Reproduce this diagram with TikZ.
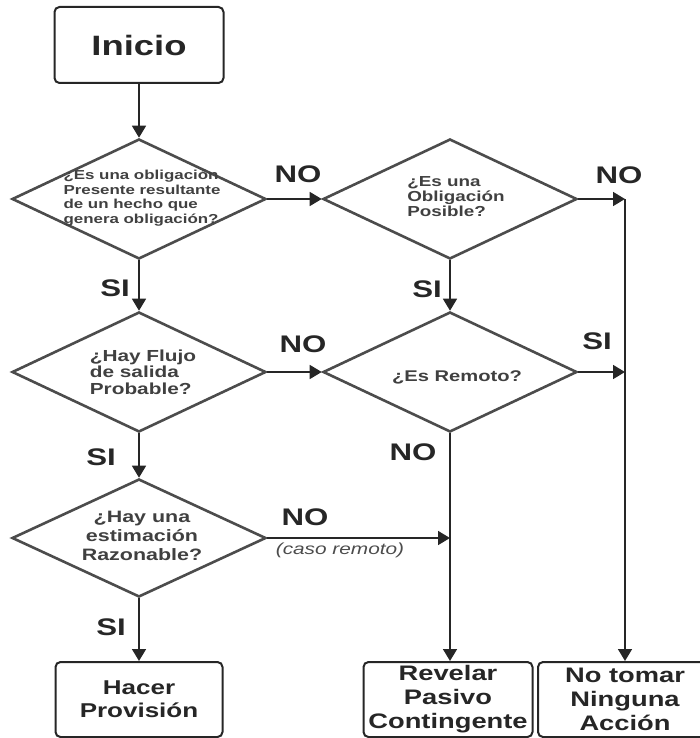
\documentclass[tikz,border=0pt]{standalone}
\usepackage{fontspec}
\setmainfont{Liberation Sans}[FakeStretch=1.3]
\usetikzlibrary{shapes.geometric,arrows.meta}

\begin{document}
\begin{tikzpicture}[x=1pt,y=-1pt,
    caja/.style={draw=black!85,line width=2pt,rounded corners=5pt,fill=white,
      inner sep=0pt,text=black!85,align=center,minimum height=75pt},
    rombo/.style={diamond,draw=black!70,line width=2.6pt,inner sep=0pt,
      minimum width=254pt,minimum height=120pt},
    pregunta/.style={text=black!75,inner sep=0pt},
    flecha/.style={draw=black!85,line width=1.6pt,-{Triangle[width=14pt,length=12pt]}},
    linea/.style={draw=black!85,line width=1.6pt},
    resp/.style={text=black!85,inner sep=0pt,font=\fontsize{24}{24}\selectfont\bfseries}]
  \useasboundingbox (0,0) rectangle (699,738);

  \node[caja,minimum width=169pt,minimum height=76pt,font=\fontsize{28}{28}\selectfont\bfseries] (inicio) at (139,45) {Inicio};

  % preguntas
  \node[rombo] (p1) at (139,199) {};
  \node[rombo] (p2) at (450,199) {};
  \node[rombo] (p3) at (139,372) {};
  \node[rombo] (p4) at (450,372) {};
  \node[rombo,minimum height=118pt] (p5) at (139,538) {};

  \node[pregunta,align=left,font=\fontsize{13}{14.5}\selectfont\bfseries] (t1) at (142,198)
    {¿Es una obligación\\Presente resultante\\de un hecho que\\genera obligación?};
  \node[pregunta,align=left,font=\fontsize{14.5}{15}\selectfont\bfseries] (t2) at (456,197)
    {¿Es una\\Obligación\\Posible?};
  \node[pregunta,align=left,font=\fontsize{16}{16.5}\selectfont\bfseries] (t3) at (143,372)
    {¿Hay Flujo\\de salida\\Probable?};
  \node[pregunta,font=\fontsize{15.5}{16}\selectfont\bfseries] (t4) at (457,377) {¿Es Remoto?};
  \node[pregunta,align=center,font=\fontsize{16.5}{19}\selectfont\bfseries] (t5) at (142,536)
    {¿Hay una\\estimación\\Razonable?};

  % resultados
  \node[caja,minimum width=167pt,font=\fontsize{20}{23}\selectfont\bfseries] (hacer) at (139,699.5)
    {Hacer\\Provisión};
  \node[caja,minimum width=169pt,font=\fontsize{21}{24}\selectfont\bfseries] (revelar) at (448,699.5)
    {Revelar\\Pasivo\\Contingente};
  \node[caja,minimum width=174pt,font=\fontsize{21}{24}\selectfont\bfseries] (ninguna) at (625,699.5)
    {No tomar\\Ninguna\\Acción};

  \coordinate (c1) at (625,199);
  \coordinate (c2) at (625,372);

  \draw[flecha] (inicio) -- (p1);
  \draw[flecha] (p1) -- (p3);
  \draw[flecha] (p3) -- (p5);
  \draw[flecha] (p5) -- (hacer);
  \draw[flecha] (p1) -- (p2);
  \draw[flecha] (p2) -- (p4);
  \draw[flecha] (p3) -- (p4);
  \draw[flecha] (p2.east) -- (c1);
  \draw[flecha] (p4.east) -- (c2);
  \draw[flecha] (c1) -- (ninguna.north);
  \draw[flecha] (p4.south) -- (p4.south |- revelar.north);
  \draw[flecha] (p5.east) -- (p5.east -| p4.south);

  % etiquetas
  \node[resp] (no1) at (298,174) {NO};
  \node[resp] (no2) at (619,175) {NO};
  \node[resp] (si1) at (115,288) {SI};
  \node[resp] (si2) at (427,289) {SI};
  \node[resp] (no3) at (303,344) {NO};
  \node[resp] (si3) at (597,341) {SI};
  \node[resp] (no4) at (413,452) {NO};
  \node[resp] (si4) at (101,457) {SI};
  \node[resp] (no5) at (305,517) {NO};
  \node[text=black!70,inner sep=0pt,font=\fontsize{16}{16}\selectfont\itshape] (remoto) at (340,550) {(caso remoto)};
  \node[resp] (si5) at (111,627) {SI};
\end{tikzpicture}
\end{document}
